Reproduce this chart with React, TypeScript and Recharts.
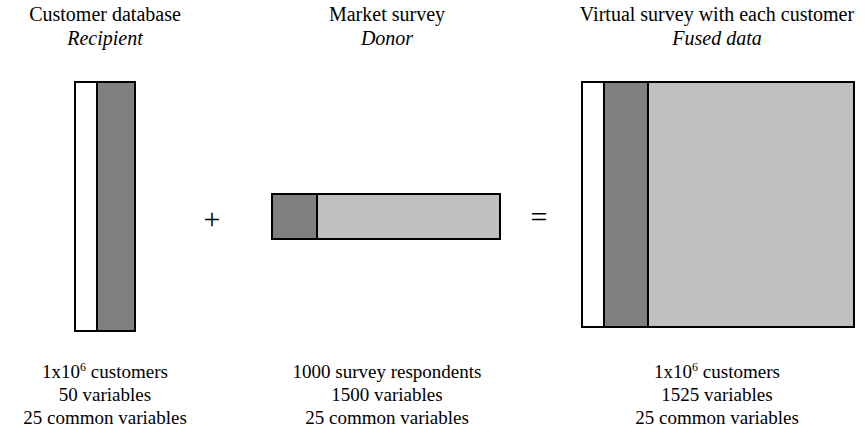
import { ComposedChart, ReferenceArea, XAxis, YAxis } from 'recharts';

const W = 865;
const H = 434;

const PANEL_TITLES = ['Customer database', 'Market survey', 'Virtual survey with each customer'];
const PANEL_ROLES = ['Recipient', 'Donor', 'Fused data'];
const PANEL_ROWS = ['1x10^6 customers', '1000 survey respondents', '1x10^6 customers'];
const PANEL_VARS = ['50 variables', '1500 variables', '1525 variables'];
const PANEL_COMMON = ['25 common variables', '25 common variables', '25 common variables'];
const OPERATORS = ['+', '='];

// block outlines in diagram units (x left→right, y top→bottom)
const BLOCK_X_EDGES = [
	[75, 97, 135],
	[272, 317, 500],
	[582, 604, 648, 854],
];
const BLOCK_Y_EDGES = [
	[82, 331],
	[194, 239],
	[82, 327],
];
const BLOCK_KINDS = [
	['id', 'common'],
	['common', 'survey'],
	['id', 'common', 'survey'],
];

const FILLS: Record<string, string> = {
	id: '#FFFFFF',
	common: '#808080',
	survey: '#C0C0C0',
};

const PANEL_CENTERS = [105, 387, 717];
const OPERATOR_X = [212, 539];
const OPERATOR_Y = [229, 227];

const segments = BLOCK_KINDS.flatMap((kinds, b) =>
	kinds.map((kind, i) => ({
		key: `${b}-${i}`,
		x1: BLOCK_X_EDGES[b][i],
		x2: BLOCK_X_EDGES[b][i + 1],
		y1: BLOCK_Y_EDGES[b][0],
		y2: BLOCK_Y_EDGES[b][1],
		fill: FILLS[kind],
	})),
);

const FONT = 'Liberation Serif';
const FS_TOP = 20;
const FS_BOTTOM = 19;

const RowsLabel = ({ text, x, y }: { text: string; x: number; y: number }) => {
	const sup = text.indexOf('^');
	if (sup < 0) {
		return (
			<text x={x} y={y} textAnchor="middle" fontFamily={FONT} fontSize={FS_BOTTOM} fill="#000">
				{text}
			</text>
		);
	}
	const base = text.slice(0, sup);
	const exp = text.slice(sup + 1, sup + 2);
	const rest = text.slice(sup + 2);
	return (
		<text x={x} y={y} textAnchor="middle" fontFamily={FONT} fontSize={FS_BOTTOM} fill="#000">
			<tspan>{base}</tspan>
			<tspan dy={-7} fontSize={12}>
				{exp}
			</tspan>
			<tspan dy={7}>{rest}</tspan>
		</text>
	);
};

export default function App() {
	return (
		<div style={{ position: 'absolute', left: 0, top: 0, width: W, height: H, background: '#fff' }}>
			<ComposedChart width={W} height={H} data={[{ x: 0, y: 0 }]} margin={{ top: 0, right: 0, bottom: 0, left: 0 }}>
				<XAxis type="number" dataKey="x" domain={[0, W]} hide allowDataOverflow />
				<YAxis type="number" dataKey="y" domain={[0, H]} reversed hide allowDataOverflow />
				{segments.map((s) => (
					<ReferenceArea
						key={s.key}
						x1={s.x1}
						x2={s.x2}
						y1={s.y1}
						y2={s.y2}
						fill={s.fill}
						fillOpacity={1}
						stroke="#000"
						strokeWidth={2}
						ifOverflow="visible"
					/>
				))}
				{PANEL_CENTERS.map((cx, i) => (
					<g key={i}>
						<text x={cx} y={21} textAnchor="middle" fontFamily={FONT} fontSize={FS_TOP} fill="#000">
							{PANEL_TITLES[i]}
						</text>
						<text x={cx} y={45} textAnchor="middle" fontFamily={FONT} fontSize={FS_TOP} fontStyle="italic" fill="#000">
							{PANEL_ROLES[i]}
						</text>
						<RowsLabel text={PANEL_ROWS[i]} x={cx} y={378} />
						<text x={cx} y={401} textAnchor="middle" fontFamily={FONT} fontSize={FS_BOTTOM} fill="#000">
							{PANEL_VARS[i]}
						</text>
						<text x={cx} y={424} textAnchor="middle" fontFamily={FONT} fontSize={FS_BOTTOM} fill="#000">
							{PANEL_COMMON[i]}
						</text>
					</g>
				))}
				{OPERATORS.map((op, i) => (
					<text key={op} x={OPERATOR_X[i]} y={OPERATOR_Y[i]} textAnchor="middle" fontFamily={FONT} fontSize={30} fill="#000">
						{op}
					</text>
				))}
			</ComposedChart>
		</div>
	);
}
